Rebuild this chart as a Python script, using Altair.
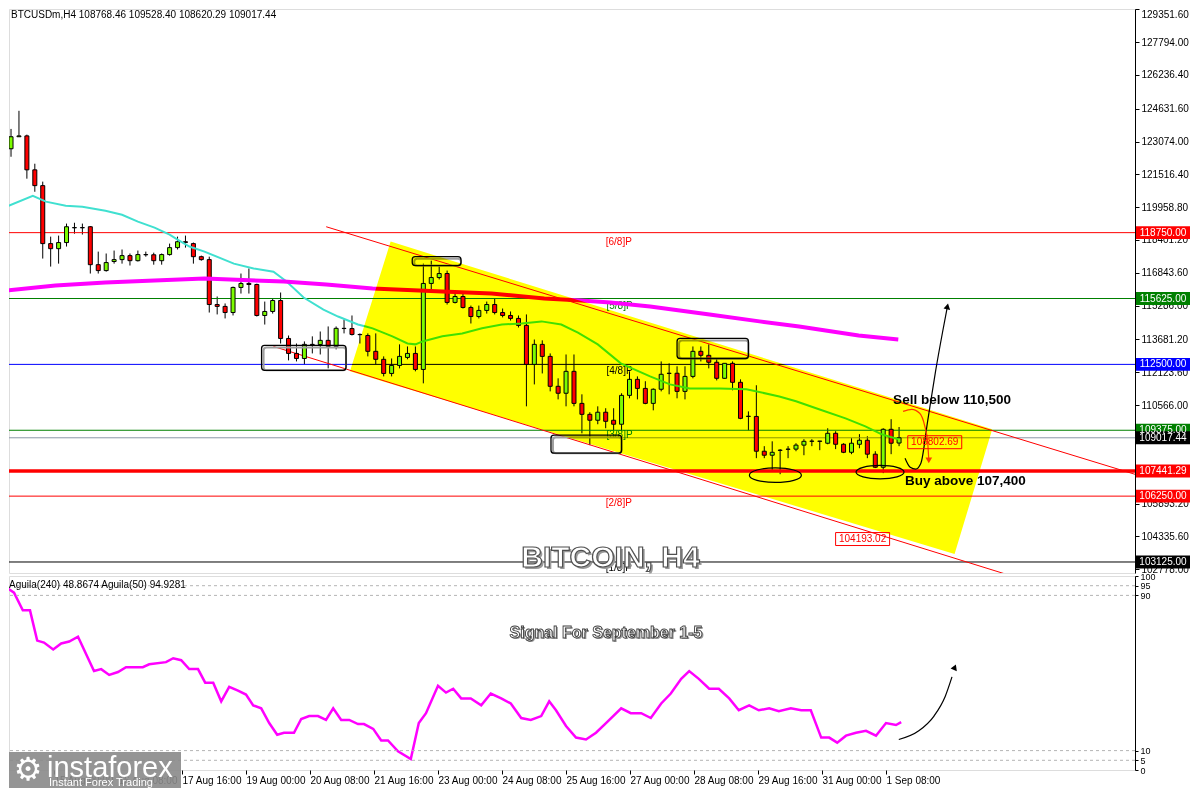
import altair as alt
import pandas as pd

FONT = "Liberation Sans"

# ---------------- data ----------------
header_text = "BTCUSDm,H4  108768.46 109528.40 108620.29 109017.44"
indicator_text = "Aguila(240) 48.8674  Aguila(50) 94.9281"

opens = [122730, 123300, 123340, 121730, 120980, 118230, 117990, 118280, 118980, 118990,
         119030, 117230, 116950, 117380, 117470, 117660, 117420, 117710, 117700, 117420,
         117710, 118040, 118320, 118230, 117610, 117470, 115340, 115250, 114960, 116150,
         116340, 116290, 114820, 115010, 115530, 113730, 113020, 112780, 113450, 113440,
         113640, 113350, 114210, 114200, 113920, 113870, 113120, 112740, 112070, 112450,
         112830, 113020, 112260, 116340, 116620, 116810, 115440, 115720, 115200, 114770,
         115060, 115340, 114960, 114820, 114680, 114350, 112500, 113450, 112880, 111460,
         111130, 112170, 110650, 110130, 109850, 110230, 109850, 109660, 111030, 111790,
         111360, 110650, 111320, 112070, 112080, 111220, 111930, 113120, 112930, 112600,
         111840, 112550, 111650, 110040, 110030, 108380, 108190, 108430, 108480, 108480,
         108670, 108850, 108860, 108760, 109230, 108710, 108330, 108710, 108900, 108240,
         107620, 109420, 108768.46]
highs = [123670, 124530, 123400, 122020, 121170, 118560, 118610, 119180, 119220, 119180,
         119060, 117850, 117760, 117900, 117950, 117760, 117900, 117850, 117800, 117760,
         118230, 118560, 118610, 118280, 117660, 117610, 115720, 115390, 116190, 116810,
         117050, 116330, 115480, 115625, 115910, 113870, 113490, 113590, 113830, 114060,
         114300, 114300, 114630, 114820, 113970, 113970, 113970, 112880, 112780, 113450,
         113350, 113350, 117280, 117420, 117140, 116950, 115960, 115860, 115290, 115290,
         115480, 115625, 115150, 115010, 114820, 114870, 113680, 113640, 113020, 111840,
         112970, 112970, 111080, 110230, 110510, 110420, 110420, 111130, 112170, 111930,
         111700, 111360, 112640, 112550, 112410, 112410, 113350, 113350, 113450, 112740,
         112560, 112640, 111790, 110270, 111510, 108620, 108850, 108480, 108620, 108760,
         108950, 108950, 108870, 109470, 109330, 108760, 109000, 109190, 109090, 108380,
         109470, 109900, 109528.40]
lows = [122350, 123300, 121310, 120690, 117520, 117140, 117280, 118090, 118700, 118660,
        116810, 116810, 116900, 117280, 117280, 117190, 117380, 117610, 117230, 117230,
        117660, 117950, 118040, 117280, 117420, 114960, 114870, 114680, 114820, 115860,
        115860, 114770, 114390, 114910, 113490, 112690, 112640, 112500, 113020, 112970,
        112310, 113210, 113970, 113870, 113490, 112880, 112500, 111930, 111930, 112310,
        112740, 112170, 111600, 116050, 116530, 115340, 115390, 115150, 114440, 114680,
        114910, 114870, 114730, 114580, 114250, 110510, 111550, 112070, 111220, 110840,
        110510, 110510, 109230, 108670, 109660, 109470, 109375, 109330, 110890, 110840,
        110610, 110320, 111220, 111080, 110890, 110840, 111840, 112640, 112310, 111740,
        111830, 111270, 109900, 109375, 108050, 108050, 107430, 107290, 108050, 108380,
        108190, 108620, 108430, 108710, 108480, 108290, 108240, 108520, 108050, 107580,
        107340, 108240, 108620.29]
closes = [123300, 123340, 121730, 120980, 118230, 117990, 118280, 119030, 118990, 118980,
          117230, 116950, 117330, 117470, 117660, 117420, 117710, 117700, 117420, 117710,
          118040, 118320, 118280, 117610, 117470, 115340, 115250, 114960, 116150, 116340,
          116290, 114820, 115010, 115530, 113730, 113020, 112780, 113450, 113440, 113640,
          113350, 114210, 114200, 113920, 113910, 113120, 112740, 112070, 112450, 112880,
          113020, 112260, 116340, 116620, 116810, 115440, 115720, 115200, 114770, 115060,
          115340, 114960, 114820, 114680, 114350, 112500, 113450, 112880, 111460, 111130,
          112170, 110650, 110130, 109850, 110230, 109800, 109660, 111030, 111790, 111360,
          110650, 111320, 112030, 112080, 111220, 111930, 113120, 112930, 112600, 111840,
          112550, 111650, 109940, 110030, 108380, 108190, 108330, 108420, 108470, 108670,
          108850, 108860, 108850, 109230, 108710, 108330, 108760, 108900, 108240, 107620,
          109420, 108760, 109017.44]

ma_fast_i = [-0.6, 2.75, 4.4, 6.9, 9, 11.9, 14, 16, 18.1, 20, 21, 22.5, 24.4, 28.1, 30.6, 33.1,
             34.75, 36.9, 39.4, 41.25, 43.75, 44.75, 45.6, 48.1, 50, 51, 51.9, 54.4, 56.9, 59.4,
             61.9, 64.4, 66.9, 69.4, 71.5, 74, 76.9, 80.6, 83.1, 85.6, 89.4, 92.75, 96.9, 99,
             101.9, 105.25, 107.75, 109.75, 111.9]
ma_fast_p = [119980, 120500, 120220, 120030, 119980, 119790, 119600, 119270, 118990, 118660,
             118420, 118090, 117850, 117280, 117050, 116900, 116430, 115670, 115100, 114770,
             114390, 114300, 114210, 113830, 113490, 113450, 113590, 113830, 113970, 114210,
             114390, 114440, 114540, 114390, 114010, 113450, 112550, 111930, 111550, 111360,
             111360, 111320, 110980, 110750, 110370, 109940, 109560, 109190, 108950]
ma_slow_i = [-0.625, 5.6, 11.9, 18.1, 24.4, 34.4, 39.75, 45.6, 54.4, 60.6, 67.25, 71.9, 75.6,
             80.6, 88.1, 94.4, 99.4, 106.9, 111.9]
ma_slow_p = [116000, 116240, 116380, 116480, 116570, 116430, 116290, 116100, 115960, 115860,
             115625, 115530, 115440, 115250, 114870, 114540, 114300, 113870, 113680]

osc_i = [-0.25, 1, 2.1, 3, 3.9, 4.75, 5.9, 6.9, 7.9, 9,
         11, 11.9, 12.9, 14, 15, 17.1, 17.9, 20, 20.9, 21.9,
         22.9, 24, 24.9, 25.9, 26.9, 27.9, 29, 30, 30.9, 31.9,
         32.9, 33.9, 34.75, 36, 36.9, 37.9, 39, 40, 40.9, 41.9,
         42.9, 44, 44.75, 45.9, 46.9, 47.75, 49, 50.6, 51.6, 52.5,
         54, 55, 55.9, 56.9, 58.1, 59.4, 60.6, 61.9, 63.1, 64.4,
         65.6, 66.9, 67.9, 68.75, 70, 71.25, 72.5, 73.75, 75, 76.9,
         78.1, 79.4, 80.6, 81.9, 83.1, 84.4, 85.4, 86.6, 87.9, 89.1,
         90.4, 91.6, 92.9, 94.1, 95.4, 96.6, 98.1, 99.4, 100.6, 101.9,
         102.9, 103.9, 105, 106.25, 107.5, 108.75, 110, 111.25, 111.9]
osc_v = [95, 91.4, 82.3, 82.3, 66.7, 65.7, 62.1, 65.2, 66.2, 68.7,
         51.0, 52.0, 49.0, 50.5, 53.0, 53.0, 54.5, 55.6, 57.6, 56.6,
         52.0, 52.0, 45.0, 45.0, 35.4, 42.9, 40.9, 38.9, 33.3, 31.8,
         24.2, 18.2, 19.2, 19.2, 26.3, 27.8, 27.8, 25.8, 31.8, 25.8,
         25.8, 23.7, 23.7, 21.2, 15.2, 15.2, 9.6, 5.6, 24.2, 29.3,
         43.4, 39.9, 41.9, 36.9, 36.9, 33.3, 39.4, 36.9, 34.3, 26.8,
         25.8, 27.8, 35.4, 30.8, 22.7, 16.7, 15.7, 19.2, 24.2, 31.8,
         29.3, 29.3, 26.8, 34.3, 39.4, 47.0, 51.0, 47.0, 41.9, 41.9,
         36.9, 30.8, 33.3, 30.8, 31.8, 30.3, 31.8, 30.8, 30.8, 16.7,
         16.7, 14.1, 17.7, 19.2, 20.2, 17.7, 24.2, 23.2, 24.7]

price_ticks = [129351.60, 127794.00, 126236.40, 124631.60, 123074.00, 121516.40, 119958.80,
               118401.20, 116843.60, 115286.00, 113681.20, 112123.60, 110566.00, 105893.20,
               104335.60, 102778.00]
level_prices = [118750, 115625, 112500, 109375, 106250, 103125]
level_colors = ["#ff0000", "#008000", "#0000ff", "#008000", "#ff0000", "#000000"]
current_price = 109017.44
support_price = 107441.29

tag_prices = [118750, 115625, 112500, 109375, 109017.44, 107441.29, 106250, 103125]
tag_labels = ["118750.00", "115625.00", "112500.00", "109375.00", "109017.44", "107441.29",
              "106250.00", "103125.00"]
tag_colors = ["#ff0000", "#008000", "#0000ff", "#008000", "#000000", "#ff0000", "#ff0000", "#000000"]

murrey_labels = ["[6/8]P", "[5/8]P", "[4/8]P", "[3/8]P", "[2/8]P", "[1/8]P"]
murrey_i = [75, 75.1, 75.1, 75.1, 75, 75]
murrey_p = [118324, 115250, 112170, 109140, 105920, 102860]
murrey_colors = ["#ff0000", "#008000", "#000000", "#008000", "#ff0000", "#000000"]

chan_i = [42.75, 47.875, 119, 123.75]
chan_top = [112169, 118324, 109977, 109422]
chan_bot = [112169, 111584, 103504, 109422]

cl_name = ["top", "top", "bottom", "bottom"]
cl_i = [39.75, 142.1, 33.1, 142.0]
cl_p = [119030, 107245, 113350, 100615]

box_i1 = [31.6, 50.6, 68.1, 84.0]
box_i2 = [42.25, 56.75, 77.0, 93.0]
box_top = [113400, 117610, 109140, 113730]
box_bot = [112220, 117190, 108290, 112780]

ell_i = [96.4, 109.6]
ell_p = [107245, 107390]
ell_size = [2704, 2304]

blk_i = [112.75, 113.4, 114.1, 114.75, 115.6, 116.6, 117.5, 118.1]
blk_p = [108050, 107620, 107530, 107810, 109800, 112170, 114060, 115250]
red_i = [112.5, 113.6, 114.6, 115.25, 115.6, 115.75]
red_p = [110270, 110370, 110180, 109560, 108850, 107950]
low_arrow_i = [111.6, 114.1, 116.0, 117.4, 118.25]
low_arrow_v = [15.7, 20.2, 27.8, 37.9, 48.0]

vbox_i = [116.5, 107.4]
vbox_p = [108807, 104214]
vbox_text = ["108802.69", "104193.02"]

ann_text = ["Sell below 110,500", "Buy above 107,400"]
ann_i = [111.25, 112.75]
ann_p = [110800, 106960]

date_ticks = [6, 14, 22, 30, 38, 46, 54, 62, 70, 78, 86, 94, 102, 110]
date_labels = ["15 Aug 00:00", "16 Aug 08:00", "17 Aug 16:00", "19 Aug 00:00", "20 Aug 08:00",
               "21 Aug 16:00", "23 Aug 00:00", "24 Aug 08:00", "25 Aug 16:00", "27 Aug 00:00",
               "28 Aug 08:00", "29 Aug 16:00", "31 Aug 00:00", "1 Sep 08:00"]
osc_ticks = [100, 95, 90, 10, 5, 0]
osc_levels = [95, 90, 10, 5]

# ---------------- layout ----------------
W = 1126
MAIN_H = 564
LOW_H = 194
X_DOMAIN = [0.375, 141.125]
P_DOMAIN = [102603, 129360]

xs = alt.Scale(domain=X_DOMAIN, nice=False, zero=False)
ys = alt.Scale(domain=P_DOMAIN, nice=False, zero=False)
vs = alt.Scale(domain=[0, 100], nice=False, zero=False)

RECT_PATH = "M -1 -0.24 L 1 -0.24 L 1 0.24 L -1 0.24 Z"
ELLIPSE = "M -1 0 A 1 0.28 0 1 1 1 0 A 1 0.28 0 1 1 -1 0 Z"

y_axis = alt.Axis(orient="right", values=price_ticks, format=".2f", labelFont=FONT,
                  labelFontSize=10, labelColor="black", tickColor="black", tickSize=4,
                  domainColor="black", labelPadding=2, grid=False, title=None,
                  labelFlush=True)
date_expr = " : ".join(f"datum.value == {t} ? '{l}'" for t, l in zip(date_ticks, date_labels)) + " : ''"
x_axis = alt.Axis(values=date_ticks, labelExpr=date_expr, labelAlign="left", labelFont=FONT,
                  labelFontSize=10, labelColor="black", tickColor="black", tickSize=4,
                  labelPadding=1, domain=False, grid=False, title=None)
v_axis = alt.Axis(orient="right", values=osc_ticks, labelFont=FONT, labelFontSize=9,
                  labelColor="black", tickColor="black", tickSize=3, domainColor="black",
                  labelPadding=2, grid=False, title=None)


def XQ(field="i"):
    return alt.X(f"{field}:Q", scale=xs, axis=None)


def YQ(field="price"):
    return alt.Y(f"{field}:Q", scale=ys, axis=y_axis)


def XL(field="i"):
    return alt.X(f"{field}:Q", scale=xs, axis=x_axis)


def YL(field="v"):
    return alt.Y(f"{field}:Q", scale=vs, axis=v_axis)


candles = pd.DataFrame({"i": list(range(len(opens))), "open": opens, "high": highs,
                        "low": lows, "close": closes})

wicks = alt.Chart(candles).mark_rule(color="black", strokeWidth=1, clip=True).encode(
    x=XQ(), y=YQ("low"), y2="high:Q")
levels = pd.DataFrame({"price": level_prices, "color": level_colors})
level_rules = alt.Chart(levels).mark_rule(strokeWidth=1, clip=True).encode(
    y=YQ(), color=alt.Color("color:N", scale=None))
cur_rule = alt.Chart(pd.DataFrame({"price": [current_price]})).mark_rule(
    strokeWidth=1, color="#8a97a8", clip=True).encode(y=YQ())
sup_rule = alt.Chart(pd.DataFrame({"price": [support_price]})).mark_rule(
    strokeWidth=3.5, color="#ff0000", clip=True).encode(y=YQ())

chan_lines = alt.Chart(pd.DataFrame({"name": cl_name, "i": cl_i, "price": cl_p})).mark_line(
    color="#ff0000", strokeWidth=1, clip=True).encode(x=XQ(), y=YQ(), detail="name:N")

murrey = alt.Chart(pd.DataFrame({"label": murrey_labels, "i": murrey_i, "price": murrey_p,
                                 "color": murrey_colors})).mark_text(
    font=FONT, fontSize=10, align="left", baseline="middle", clip=True).encode(
    x=XQ(), y=YQ(), text="label:N", color=alt.Color("color:N", scale=None))

bodies = alt.Chart(candles).mark_bar(size=4, stroke="black", strokeWidth=1, clip=True).encode(
    x=XQ(), y=YQ("open"), y2="close:Q",
    color=alt.condition("datum.close >= datum.open", alt.value("#7cfc00"), alt.value("#ff0000")))

ma_fast = alt.Chart(pd.DataFrame({"i": ma_fast_i, "price": ma_fast_p})).mark_line(
    color="#40e0d0", strokeWidth=2, clip=True).encode(x=XQ(), y=YQ())
ma_slow = alt.Chart(pd.DataFrame({"i": ma_slow_i, "price": ma_slow_p})).mark_line(
    color="#ff00ff", strokeWidth=4, clip=True).encode(x=XQ(), y=YQ())

boxes_df = pd.DataFrame({"i1": box_i1, "i2": box_i2, "top": box_top, "bot": box_bot})
box_shadow = alt.Chart(boxes_df).mark_rect(fill="transparent", stroke="#a0a0a0", strokeWidth=2,
                                           cornerRadius=3, xOffset=2, yOffset=2, clip=True).encode(
    x=XQ("i1"), x2="i2:Q", y=YQ("top"), y2="bot:Q")
boxes = alt.Chart(boxes_df).mark_rect(fill="transparent", stroke="black", strokeWidth=1.3,
                                      cornerRadius=3, clip=True).encode(
    x=XQ("i1"), x2="i2:Q", y=YQ("top"), y2="bot:Q")

ellipses = alt.Chart(pd.DataFrame({"i": ell_i, "price": ell_p, "size": ell_size})).mark_point(
    shape=ELLIPSE, filled=False, color="black", strokeWidth=1.2, opacity=1, clip=True).encode(
    x=XQ(), y=YQ(), size=alt.Size("size:Q", scale=None))

blk_arrow = alt.Chart(pd.DataFrame({"i": blk_i, "price": blk_p})).mark_line(
    color="black", strokeWidth=1.2, interpolate="monotone", clip=True).encode(x=XQ(), y=YQ())
blk_head = alt.Chart(pd.DataFrame({"i": [blk_i[-1]], "price": [blk_p[-1]]})).mark_point(
    shape="triangle-up", filled=True, color="black", size=45, angle=12, opacity=1).encode(
    x=XQ(), y=YQ())
red_arrow = alt.Chart(pd.DataFrame({"i": red_i, "price": red_p})).mark_line(
    color="#ff3a10", strokeWidth=1.2, interpolate="monotone", clip=True).encode(x=XQ(), y=YQ())
red_head = alt.Chart(pd.DataFrame({"i": [red_i[-1]], "price": [red_p[-1]]})).mark_point(
    shape="triangle-down", filled=True, color="#ff3a10", size=45, opacity=1).encode(
    x=XQ(), y=YQ())

vbox_df = pd.DataFrame({"i": vbox_i, "price": vbox_p, "label": vbox_text})
vbox_frame = alt.Chart(vbox_df).mark_point(shape=RECT_PATH, filled=False, color="#ff0000",
                                           strokeWidth=1, size=2916, opacity=1).encode(
    x=XQ(), y=YQ())
vbox_label = alt.Chart(vbox_df).mark_text(font=FONT, fontSize=10, color="#ff0000").encode(
    x=XQ(), y=YQ(), text="label:N")

ann = alt.Chart(pd.DataFrame({"label": ann_text, "i": ann_i, "price": ann_p})).mark_text(
    font=FONT, fontSize=13.5, fontWeight="bold", align="left", baseline="middle",
    color="black").encode(x=XQ(), y=YQ(), text="label:N")

title_df = pd.DataFrame({"label": ["BITCOIN, H4"], "i": [75.6], "price": [103315]})
title_shadow = alt.Chart(title_df).mark_text(font=FONT, fontSize=30, fontWeight="bold",
                                             fill="#9a9a9a", dx=2, dy=2).encode(
    x=XQ(), y=YQ(), text="label:N")
title_txt = alt.Chart(title_df).mark_text(font=FONT, fontSize=30, fontWeight="bold",
                                          fill="white", stroke="#505050", strokeWidth=1.2).encode(
    x=XQ(), y=YQ(), text="label:N")

header = alt.Chart(pd.DataFrame({"label": [header_text]})).mark_text(
    font=FONT, fontSize=10, align="left", baseline="top", color="black").encode(
    x=alt.value(2), y=alt.value(1), text="label:N")

tags_df = pd.DataFrame({"price": tag_prices, "label": tag_labels, "color": tag_colors})
tag_box = alt.Chart(tags_df).mark_point(shape=RECT_PATH, filled=True, size=2916, opacity=1,
                                        strokeWidth=0).encode(
    x=alt.value(W + 28), y=YQ(), color=alt.Color("color:N", scale=None))
tag_txt = alt.Chart(tags_df).mark_text(font=FONT, fontSize=10, color="white").encode(
    x=alt.value(W + 28), y=YQ(), text="label:N")

# yellow channel drawn on top with a multiply blend (like the terminal's highlight)
channel = alt.Chart(pd.DataFrame({"i": chan_i, "top": chan_top, "bot": chan_bot})).mark_area(
    color="#ffff00", opacity=1, blend="multiply").encode(
    x=XQ(), y=YQ("top"), y2="bot:Q")

main = alt.layer(
    wicks, level_rules, cur_rule, sup_rule, chan_lines, murrey, bodies, ma_fast, ma_slow,
    box_shadow, boxes, ellipses, blk_arrow, blk_head, red_arrow, red_head, vbox_frame,
    vbox_label, ann, title_shadow, title_txt, header, tag_box, tag_txt, channel
).properties(width=W, height=MAIN_H)

# ---------------- lower panel ----------------
osc_df = pd.DataFrame({"i": osc_i, "v": osc_v})
osc_line = alt.Chart(osc_df).mark_line(color="#ff00ff", strokeWidth=2.5, clip=True).encode(
    x=XL(), y=YL())
osc_rules = alt.Chart(pd.DataFrame({"v": osc_levels})).mark_rule(
    color="#b4b4b4", strokeWidth=1, strokeDash=[3, 3]).encode(y=YL())
low_arrow = alt.Chart(pd.DataFrame({"i": low_arrow_i, "v": low_arrow_v})).mark_line(
    color="black", strokeWidth=1.2, interpolate="monotone").encode(x=XL(), y=YL())
low_head = alt.Chart(pd.DataFrame({"i": [118.6], "v": [53.0]})).mark_point(
    shape="triangle-up", filled=True, color="black", size=45, angle=22, opacity=1).encode(
    x=XL(), y=YL())
signal_df = pd.DataFrame({"label": ["Signal For September 1-5"], "i": [75], "v": [70.7]})
signal_shadow = alt.Chart(signal_df).mark_text(font=FONT, fontSize=16, fontWeight="bold",
                                               fill="#9a9a9a", dx=1.5, dy=1.5).encode(
    x=XL(), y=YL(), text="label:N")
signal_txt = alt.Chart(signal_df).mark_text(font=FONT, fontSize=16, fontWeight="bold",
                                            fill="white", stroke="#404040", strokeWidth=0.9).encode(
    x=XL(), y=YL(), text="label:N")
ind_header = alt.Chart(pd.DataFrame({"label": [indicator_text]})).mark_text(
    font=FONT, fontSize=10, align="left", baseline="middle", color="black").encode(
    x=alt.value(0), y=alt.value(9), text="label:N")

logo_bg = alt.Chart(pd.DataFrame({"k": [0]})).mark_rect(fill="#8a8a8a", opacity=0.9).encode(
    x=alt.value(0), x2=alt.value(172), y=alt.value(176), y2=alt.value(212))
logo_gear = alt.Chart(pd.DataFrame({"label": ["\u2699"]})).mark_text(
    font="DejaVu Sans", fontSize=32, color="white", align="center", baseline="middle").encode(
    x=alt.value(19), y=alt.value(194), text="label:N")
logo_name = alt.Chart(pd.DataFrame({"label": ["instaforex"]})).mark_text(
    font=FONT, fontSize=29, color="white", align="left", baseline="alphabetic").encode(
    x=alt.value(38), y=alt.value(201), text="label:N")
logo_sub = alt.Chart(pd.DataFrame({"label": ["Instant Forex Trading"]})).mark_text(
    font=FONT, fontSize=11, color="white", align="left", baseline="bottom").encode(
    x=alt.value(40), y=alt.value(212), text="label:N")

lower = alt.layer(
    osc_line, osc_rules, low_arrow, low_head, signal_shadow, signal_txt, ind_header,
    logo_bg, logo_gear, logo_name, logo_sub
).properties(width=W, height=LOW_H)

chart = alt.vconcat(main, lower, spacing=3, bounds="flush", padding=0
                    ).configure_view(stroke="black", strokeWidth=1, fill="white"
                    ).configure(background="white")

chart.save("out.html", embed_options={"renderer": "svg", "actions": False})
